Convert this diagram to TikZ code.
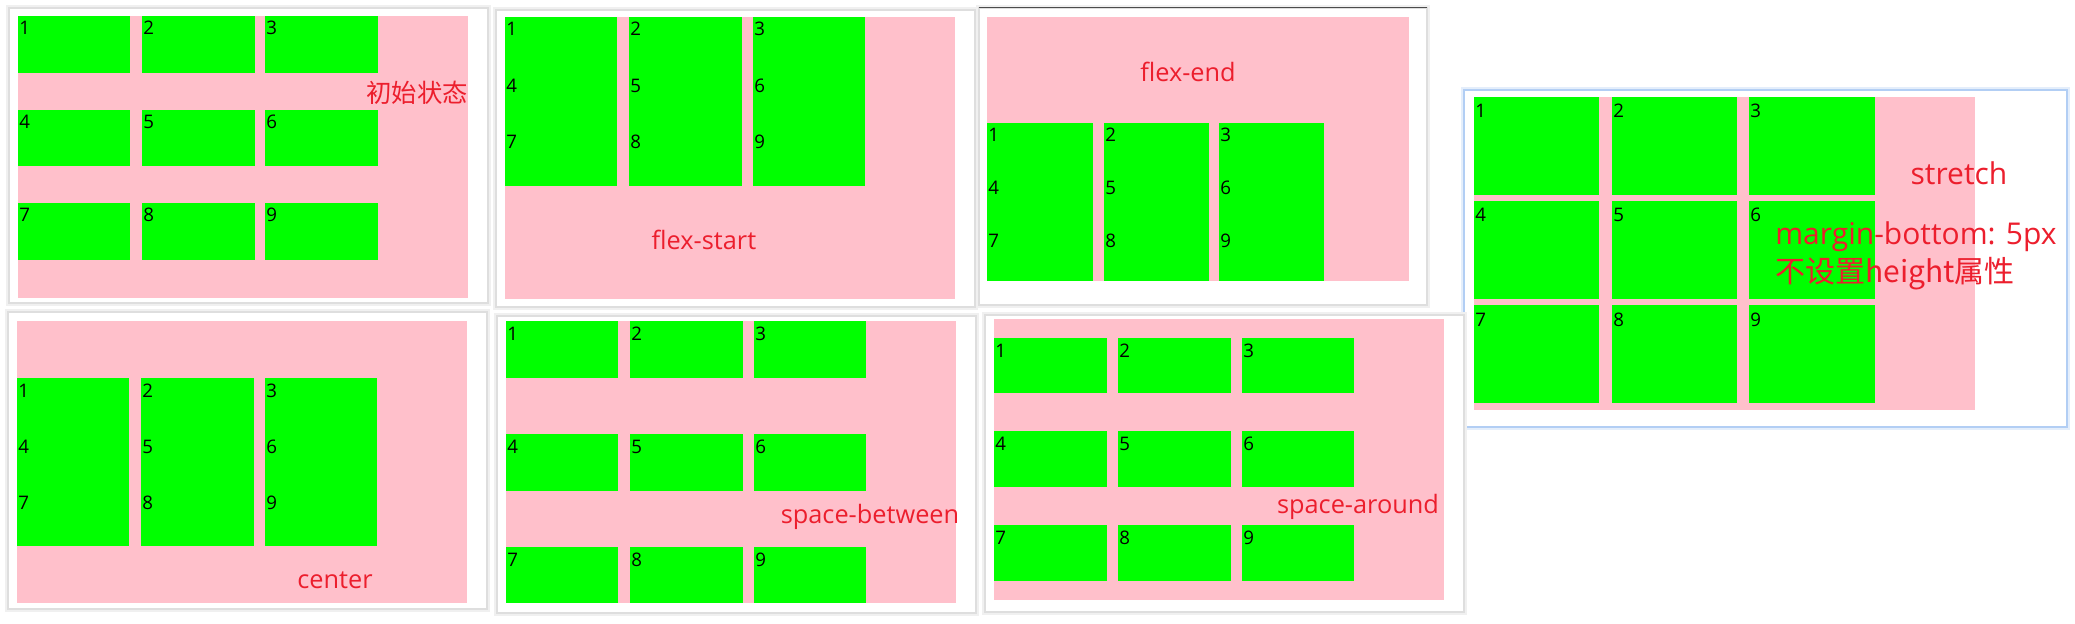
\documentclass[tikz,border=0pt]{standalone}
\usepackage{fontspec}
\setmainfont{Open Sans}
\newfontfamily\cjkfont{Noto Sans CJK SC}
\definecolor{wrappink}{RGB}{255,192,203}
\definecolor{itemgreen}{RGB}{0,255,0}
\definecolor{tagred}{RGB}{236,30,45}
\definecolor{shade}{RGB}{222,222,222}
\definecolor{softshade}{RGB}{240,240,240}
\definecolor{glow}{RGB}{178,206,244}

\begin{document}
\begin{tikzpicture}[x=0.75pt, y=-0.75pt,
	card/.style={fill=white, draw=shade, line width=1.5pt,
		preaction={draw=softshade, line width=4.5pt}},
	wrap/.style={fill=wrappink},
	item/.style={fill=itemgreen},
	num/.style={anchor=base west, inner sep=0pt, font=\fontsize{14}{17}\selectfont},
	tag/.style={text=tagred, inner sep=0pt, font=\fontsize{19}{23}\selectfont},
	bigtag/.style={tag, font=\fontsize{22.5}{27}\selectfont}]

	\useasboundingbox (0,0) rectangle (2075,624);

	\draw[card] (9,8) rectangle (488,303);
	\draw[card] (496,10) rectangle (975,307);
	\draw[card] (979,8) rectangle (1427,305);
	\draw[black!70, line width=0.75pt] (979,8) -- (1427,8);
	\draw[card, draw=glow, preaction={draw=glow!35, line width=4.5pt}] (1464,90) rectangle (2067,427);
	\draw[card] (8,312) rectangle (487,609);
	\draw[card] (497,316) rectangle (976,613);
	\draw[card] (985,315) rectangle (1464,612);

	% initial
	\fill[wrap] (18,16) rectangle (468,298);
	\foreach \xl/\xr [count=\c] in {18/130,142/255,265/378}
		\foreach \yt/\yb [count=\r] in {16/73,110/166,203/260} {
			\pgfmathtruncatemacro\idx{3*\r-3+\c}
			\fill[item] (\xl,\yt) rectangle (\xr,\yb);
			\node[num] (init-\idx) at (\xl+1,\yt+19) {\idx};
		}
	\node[tag] (init-tag) at (417,93) {\cjkfont 初始状态};

	% flex-start
	\fill[wrap] (505,17) rectangle (955,299);
	\foreach \xl/\xr [count=\c] in {505/617,629/742,753/865} {
		\fill[item] (\xl,17) rectangle (\xr,186);
		\foreach \r in {1,2,3} {
			\pgfmathtruncatemacro\idx{3*\r-3+\c}
			\node[num] (start-\idx) at (\xl+1,17+56.3*\r-56.3+19) {\idx};
		}
	}
	\node[tag] (start-tag) at (704,240) {flex-start};

	% flex-end
	\fill[wrap] (987,17) rectangle (1409,281);
	\foreach \xl/\xr [count=\c] in {987/1093,1104/1209,1219/1324} {
		\fill[item] (\xl,123) rectangle (\xr,281);
		\foreach \r in {1,2,3} {
			\pgfmathtruncatemacro\idx{3*\r-3+\c}
			\node[num] (end-\idx) at (\xl+1,123+52.7*\r-52.7+19) {\idx};
		}
	}
	\node[tag] (end-tag) at (1188,72) {flex-end};

	% stretch
	\fill[wrap] (1474,97) rectangle (1975,410);
	\foreach \xl/\xr [count=\c] in {1474/1599,1612/1737,1749/1875}
		\foreach \yt/\yb [count=\r] in {97/195,201/299,305/403} {
			\pgfmathtruncatemacro\idx{3*\r-3+\c}
			\fill[item] (\xl,\yt) rectangle (\xr,\yb);
			\node[num] (stretch-\idx) at (\xl+1,\yt+21) {\idx};
		}
	\node[bigtag] (stretch-tag) at (1959,173) {stretch};
	\node[bigtag, anchor=west] (stretch-margin) at (1775,237) {margin-bottom: 5px};
	\node[bigtag, anchor=west] (stretch-height) at (1775,274) {\cjkfont 不设置height属性};

	% center
	\fill[wrap] (17,321) rectangle (467,603);
	\foreach \xl/\xr [count=\c] in {17/129,141/254,265/377} {
		\fill[item] (\xl,378) rectangle (\xr,546);
		\foreach \r in {1,2,3} {
			\pgfmathtruncatemacro\idx{3*\r-3+\c}
			\node[num] (center-\idx) at (\xl+1,378+56*\r-56+19) {\idx};
		}
	}
	\node[tag] (center-tag) at (335,580) {center};

	% space-between
	\fill[wrap] (506,321) rectangle (956,603);
	\foreach \xl/\xr [count=\c] in {506/618,630/743,754/866}
		\foreach \yt/\yb [count=\r] in {321/378,434/491,547/603} {
			\pgfmathtruncatemacro\idx{3*\r-3+\c}
			\fill[item] (\xl,\yt) rectangle (\xr,\yb);
			\node[num] (between-\idx) at (\xl+1,\yt+19) {\idx};
		}
	\node[tag] (between-tag) at (870,517) {space-between};

	% space-around
	\fill[wrap] (994,319) rectangle (1444,600);
	\foreach \xl/\xr [count=\c] in {994/1107,1118/1231,1242/1354}
		\foreach \yt/\yb [count=\r] in {338/393,431/487,525/581} {
			\pgfmathtruncatemacro\idx{3*\r-3+\c}
			\fill[item] (\xl,\yt) rectangle (\xr,\yb);
			\node[num] (around-\idx) at (\xl+1,\yt+19) {\idx};
		}
	\node[tag] (around-tag) at (1358,507) {space-around};

\end{tikzpicture}
\end{document}
